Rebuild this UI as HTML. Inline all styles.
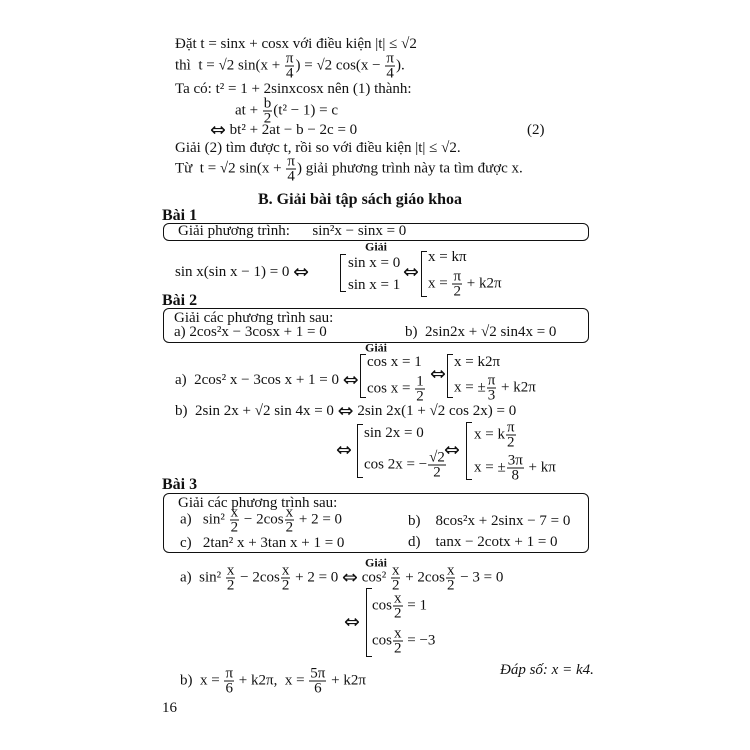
<!DOCTYPE html>
<html><head><meta charset="utf-8"><style>
body{margin:0;background:#fff;}
#p{position:relative;width:750px;height:750px;background:#fff;color:#111;font-family:"Liberation Serif",serif;font-size:15px;overflow:hidden}
.l{position:absolute;white-space:nowrap;transform:translateY(-50%);line-height:18px}
.f{display:inline-block;vertical-align:middle;text-align:center;line-height:14px;margin:0 1px}
.f>span{display:block;padding:0 1px}
.f>span:first-child{border-bottom:1px solid #111}
.br{position:absolute;border:1.5px solid #111;border-right:none;width:5px}
.box{position:absolute;border:1.5px solid #111;border-radius:6px}
.a{font-family:"DejaVu Sans",sans-serif;font-size:19px;vertical-align:-2px}
.g{position:absolute;font-size:12px;font-weight:bold;transform:translateY(-50%)}
.h{font-weight:bold;font-size:16px}
</style></head><body><div id="p">

<div class="l" style="left:175px;top:44px">Đặt t = sinx + cosx với điều kiện |t| ≤ √2</div>
<div class="l" style="left:175px;top:66px">thì &nbsp;t = √2 sin(x + <span class="f"><span>π</span><span>4</span></span>) = √2 cos(x − <span class="f"><span>π</span><span>4</span></span>).</div>
<div class="l" style="left:175px;top:89px">Ta có: t² = 1 + 2sinxcosx nên (1) thành:</div>
<div class="l" style="left:235px;top:111px">at + <span class="f"><span>b</span><span>2</span></span>(t² − 1) = c</div>
<div class="l" style="left:210px;top:130px"><span class="a">⇔</span> bt² + 2at − b − 2c = 0</div>
<div class="l" style="left:527px;top:130px">(2)</div>
<div class="l" style="left:175px;top:148px">Giải (2) tìm được t, rồi so với điều kiện |t| ≤ √2.</div>
<div class="l" style="left:175px;top:169px">Từ &nbsp;t = √2 sin(x + <span class="f"><span>π</span><span>4</span></span>) giải phương trình này ta tìm được x.</div>

<div class="l" style="left:258px;top:200px;font-size:16px;font-weight:bold">B. Giải bài tập sách giáo khoa</div>

<div class="l h" style="left:162px;top:216px">Bài 1</div>
<div class="box" style="left:163px;top:223px;width:424px;height:16px"></div>
<div class="l" style="left:178px;top:231px">Giải phương trình: &nbsp;&nbsp;&nbsp;&nbsp;&nbsp;sin²x − sinx = 0</div>
<div class="g" style="left:365px;top:247px">Giải</div>
<div class="l" style="left:175px;top:272px">sin x(sin x − 1) = 0 <span class="a">⇔</span></div>
<div class="br" style="left:340px;top:254px;height:36px"></div>
<div class="l" style="left:348px;top:263px">sin x = 0</div>
<div class="l" style="left:348px;top:285px">sin x = 1</div>
<div class="l" style="left:403px;top:272px"><span class="a">⇔</span></div>
<div class="br" style="left:421px;top:251px;height:44px"></div>
<div class="l" style="left:428px;top:257px">x = kπ</div>
<div class="l" style="left:428px;top:284px">x = <span class="f"><span>π</span><span>2</span></span> + k2π</div>

<div class="l h" style="left:162px;top:301px">Bài 2</div>
<div class="box" style="left:163px;top:308px;width:424px;height:33px"></div>
<div class="l" style="left:174px;top:318px">Giải các phương trình sau:</div>
<div class="l" style="left:174px;top:332px">a) 2cos²x − 3cosx + 1 = 0</div>
<div class="l" style="left:405px;top:332px">b) &nbsp;2sin2x + √2 sin4x = 0</div>
<div class="g" style="left:365px;top:348px">Giải</div>
<div class="l" style="left:175px;top:380px">a) &nbsp;2cos² x − 3cos x + 1 = 0 <span class="a">⇔</span></div>
<div class="br" style="left:360px;top:354px;height:42px"></div>
<div class="l" style="left:367px;top:362px">cos x = 1</div>
<div class="l" style="left:367px;top:389px">cos x = <span class="f"><span>1</span><span>2</span></span></div>
<div class="l" style="left:430px;top:374px"><span class="a">⇔</span></div>
<div class="br" style="left:447px;top:354px;height:42px"></div>
<div class="l" style="left:454px;top:362px">x = k2π</div>
<div class="l" style="left:454px;top:388px">x = ±<span class="f"><span>π</span><span>3</span></span> + k2π</div>
<div class="l" style="left:175px;top:411px">b) &nbsp;2sin 2x + √2 sin 4x = 0 <span class="a">⇔</span> 2sin 2x(1 + √2 cos 2x) = 0</div>
<div class="l" style="left:336px;top:450px"><span class="a">⇔</span></div>
<div class="br" style="left:357px;top:424px;height:52px"></div>
<div class="l" style="left:364px;top:433px">sin 2x = 0</div>
<div class="l" style="left:364px;top:465px">cos 2x = −<span class="f"><span>√2</span><span>2</span></span></div>
<div class="l" style="left:444px;top:450px"><span class="a">⇔</span></div>
<div class="br" style="left:466px;top:422px;height:56px"></div>
<div class="l" style="left:474px;top:435px">x = k<span class="f"><span>π</span><span>2</span></span></div>
<div class="l" style="left:474px;top:468px">x = ±<span class="f"><span>3π</span><span>8</span></span> + kπ</div>

<div class="l h" style="left:162px;top:485px">Bài 3</div>
<div class="box" style="left:163px;top:493px;width:424px;height:58px"></div>
<div class="l" style="left:178px;top:503px">Giải các phương trình sau:</div>
<div class="l" style="left:180px;top:520px">a) &nbsp;&nbsp;sin² <span class="f"><span>x</span><span>2</span></span> − 2cos<span class="f"><span>x</span><span>2</span></span> + 2 = 0</div>
<div class="l" style="left:408px;top:521px">b) &nbsp;&nbsp;&nbsp;8cos²x + 2sinx − 7 = 0</div>
<div class="l" style="left:180px;top:543px">c) &nbsp;&nbsp;2tan² x + 3tan x + 1 = 0</div>
<div class="l" style="left:408px;top:542px">d) &nbsp;&nbsp;&nbsp;tanx − 2cotx + 1 = 0</div>
<div class="g" style="left:365px;top:563px">Giải</div>
<div class="l" style="left:180px;top:578px">a) &nbsp;sin² <span class="f"><span>x</span><span>2</span></span> − 2cos<span class="f"><span>x</span><span>2</span></span> + 2 = 0 <span class="a">⇔</span> cos² <span class="f"><span>x</span><span>2</span></span> + 2cos<span class="f"><span>x</span><span>2</span></span> − 3 = 0</div>
<div class="l" style="left:344px;top:622px"><span class="a">⇔</span></div>
<div class="br" style="left:366px;top:588px;height:67px"></div>
<div class="l" style="left:372px;top:606px">cos<span class="f"><span>x</span><span>2</span></span> = 1</div>
<div class="l" style="left:372px;top:641px">cos<span class="f"><span>x</span><span>2</span></span> = −3</div>
<div class="l" style="left:500px;top:670px;font-style:italic">Đáp số: x = k4.</div>
<div class="l" style="left:180px;top:681px">b) &nbsp;x = <span class="f"><span>π</span><span>6</span></span> + k2π, &nbsp;x = <span class="f"><span>5π</span><span>6</span></span> + k2π</div>
<div class="l" style="left:162px;top:708px">16</div>
</div></body></html>
